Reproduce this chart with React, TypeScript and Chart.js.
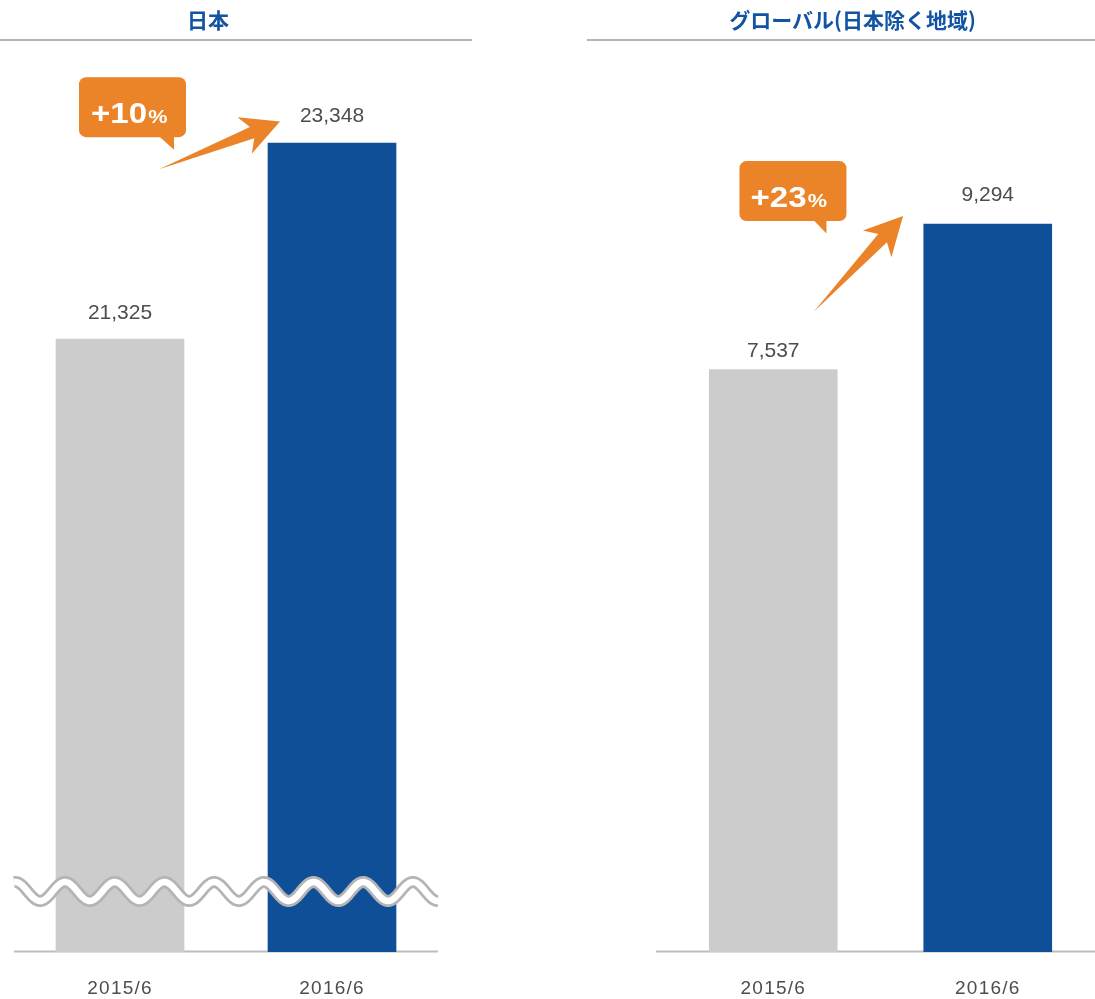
import React, { useEffect, useRef } from 'react';
import { Chart, registerables } from 'chart.js';

Chart.register(...registerables);

// ---- data ----
const categories = ['2015/6', '2016/6'];
const japanValues = [21325, 23348];
const globalValues = [7537, 9294];
const japanChange = ['+10', '%'];
const globalChange = ['+23', '%'];
const panelTitles = ['日本', 'グローバル(日本除く地域)'];
const japanAxisRange = [15000, 24000];
const globalAxisRange = [500, 11035];

// ---- styles ----
const barColors = ['#cbcccb', '#0f4f98'];
const ORANGE = '#eb8329';
const TITLE_BLUE = '#1254a3';
const LATIN = '"Liberation Sans", Arial, Helvetica, sans-serif';

type PanelCfg = {
  title: string;
  values: number[];
  change: string[];
  range: number[];
  canvasLeft: number;
  canvasWidth: number;
  padLeft: number;
  padRight: number;
  baseExtendLeft: number;
  titleCenter: number;
  lineLeft: number;
  lineRight: number;
  labelGaps: number[];
  wave: boolean;
  box: { dx: number; dy: number; w: number; h: number; tail: number[]; textPad: number };
  arrow: { tail: number[]; head: number[] };
};

const panels: PanelCfg[] = [
  {
    title: panelTitles[0],
    values: japanValues,
    change: japanChange,
    range: japanAxisRange,
    canvasLeft: 0,
    canvasWidth: 472,
    padLeft: 14,
    padRight: 34,
    baseExtendLeft: 0,
    titleCenter: 208,
    lineLeft: 0,
    lineRight: 472,
    labelGaps: [26, 27],
    wave: true,
    box: { dx: -189, dy: -66, w: 107, h: 60, tail: [80, 95], textPad: 12 },
    arrow: { tail: [-109, 26], head: [12, -21.6] },
  },
  {
    title: panelTitles[1],
    values: globalValues,
    change: globalChange,
    range: globalAxisRange,
    canvasLeft: 588,
    canvasWidth: 507,
    padLeft: 78,
    padRight: 0,
    baseExtendLeft: 10,
    titleCenter: 852.5,
    lineLeft: 587,
    lineRight: 1095,
    labelGaps: [18.5, 29],
    wave: false,
    box: { dx: -184.3, dy: -63, w: 107, h: 60, tail: [74, 87], textPad: 11 },
    arrow: { tail: [-110, 87.7], head: [-20.7, -8] },
  },
];

function drawArrow(ctx: CanvasRenderingContext2D, tx: number, ty: number, hx: number, hy: number) {
  const dx = hx - tx;
  const dy = hy - ty;
  const L = Math.hypot(dx, dy);
  const ux = dx / L;
  const uy = dy / L;
  const nx = -uy;
  const ny = ux;
  const P = (a: number, p: number): [number, number] => [tx + ux * a + nx * p, ty + uy * a + ny * p];
  const pts = [P(0, 0), P(L - 30, -6), P(L - 38, -19.5), P(L, 0), P(L - 38, 19.5), P(L - 30, 6)];
  ctx.save();
  ctx.fillStyle = ORANGE;
  ctx.beginPath();
  ctx.moveTo(pts[0][0], pts[0][1]);
  for (let i = 1; i < pts.length; i++) ctx.lineTo(pts[i][0], pts[i][1]);
  ctx.closePath();
  ctx.fill();
  ctx.restore();
}

function drawCallout(ctx: CanvasRenderingContext2D, x: number, y: number, cfg: PanelCfg['box'], change: string[]) {
  const { w, h, tail, textPad } = cfg;
  ctx.save();
  ctx.fillStyle = ORANGE;
  ctx.beginPath();
  (ctx as any).roundRect(x, y, w, h, 7);
  ctx.fill();
  ctx.beginPath();
  ctx.moveTo(x + tail[0], y + h - 1);
  ctx.lineTo(x + tail[1], y + h - 1);
  ctx.lineTo(x + tail[1], y + h + 12.5);
  ctx.closePath();
  ctx.fill();
  ctx.fillStyle = '#ffffff';
  ctx.textAlign = 'left';
  ctx.textBaseline = 'alphabetic';
  ctx.translate(x + textPad, y + h - 14.5);
  ctx.scale(1.14, 1);
  ctx.font = `bold 29px ${LATIN}`;
  ctx.fillText(change[0], 0, 0);
  const tw = ctx.measureText(change[0]).width;
  ctx.font = `bold 19px ${LATIN}`;
  ctx.fillText(change[1], tw + 1, 0);
  ctx.restore();
}

function makePlugin(cfg: PanelCfg) {
  return {
    id: 'panelDecor',
    beforeDraw(chart: any) {
      (chart.ctx as any).letterSpacing = '1.2px';
    },
    beforeDatasetsDraw(chart: any) {
      const ctx = chart.ctx as CanvasRenderingContext2D;
      (ctx as any).letterSpacing = '0px';
      const a = chart.chartArea;
      ctx.save();
      ctx.strokeStyle = '#bdbdbd';
      ctx.lineWidth = 2;
      ctx.beginPath();
      ctx.moveTo(a.left - cfg.baseExtendLeft, a.bottom - 0.5);
      ctx.lineTo(a.right, a.bottom - 0.5);
      ctx.stroke();
      ctx.restore();
    },
    afterDatasetsDraw(chart: any) {
      const ctx = chart.ctx as CanvasRenderingContext2D;
      (ctx as any).letterSpacing = '0px';
      const a = chart.chartArea;
      const bars = chart.getDatasetMeta(0).data;

      if (cfg.wave) {
        const cy = a.bottom - 60.5;
        const amp = 9.5;
        const period = 49.7;
        const x0 = a.left + 51;
        ctx.save();
        ctx.beginPath();
        for (let x = a.left; x <= a.right; x += 1) {
          const y = cy - amp * Math.cos((2 * Math.PI * (x - x0)) / period);
          if (x === a.left) ctx.moveTo(x, y);
          else ctx.lineTo(x, y);
        }
        ctx.lineCap = 'butt';
        ctx.lineJoin = 'round';
        ctx.strokeStyle = '#b4b4b4';
        ctx.lineWidth = 12;
        ctx.stroke();
        ctx.strokeStyle = '#ffffff';
        ctx.lineWidth = 6.5;
        ctx.stroke();
        ctx.restore();
      }

      // value labels
      ctx.save();
      ctx.font = `21px ${LATIN}`;
      ctx.fillStyle = '#4d4d4d';
      ctx.textAlign = 'center';
      ctx.textBaseline = 'middle';
      bars.forEach((el: any, i: number) => {
        ctx.fillText(cfg.values[i].toLocaleString('en-US'), el.x, el.y - cfg.labelGaps[i]);
      });
      ctx.restore();

      // callout + arrow, anchored to the second bar's top-left corner
      const last = bars[bars.length - 1];
      const bx = last.x - last.width / 2;
      const by = last.y;
      drawCallout(ctx, bx + cfg.box.dx, by + cfg.box.dy, cfg.box, cfg.change);
      drawArrow(
        ctx,
        bx + cfg.arrow.tail[0],
        by + cfg.arrow.tail[1],
        bx + cfg.arrow.head[0],
        by + cfg.arrow.head[1]
      );
    },
  };
}

function Panel({ cfg }: { cfg: PanelCfg }) {
  const ref = useRef<HTMLCanvasElement | null>(null);
  useEffect(() => {
    if (!ref.current) return;
    const chart = new Chart(ref.current, {
      type: 'bar',
      data: {
        labels: categories,
        datasets: [
          {
            data: cfg.values,
            backgroundColor: barColors,
            barThickness: 128,
          },
        ],
      },
      options: {
        responsive: false,
        animation: false,
        devicePixelRatio: 1,
        layout: { padding: { top: 80, left: cfg.padLeft, right: cfg.padRight, bottom: 0 } },
        plugins: {
          legend: { display: false },
          tooltip: { enabled: false },
          title: { display: false },
        },
        scales: {
          x: {
            grid: { display: false, drawTicks: false },
            border: { display: false },
            ticks: {
              color: '#4d4d4d',
              font: { family: LATIN, size: 19 },
              padding: 25,
              maxRotation: 0,
              autoSkip: false,
            },
            afterFit: (scale: any) => {
              scale.height = 47;
            },
          },
          y: {
            display: false,
            min: cfg.range[0],
            max: cfg.range[1],
          },
        },
      },
      plugins: [makePlugin(cfg)],
    } as any);
    return () => chart.destroy();
  }, []);
  return (
    <canvas
      ref={ref}
      width={cfg.canvasWidth}
      height={999}
      style={{ position: 'absolute', left: cfg.canvasLeft, top: 0, width: cfg.canvasWidth, height: 999 }}
    />
  );
}

export default function App() {
  return (
    <div
      style={{
        position: 'absolute',
        left: 0,
        top: 0,
        width: 1095,
        height: 999,
        background: '#ffffff',
        overflow: 'hidden',
      }}
    >
      {panels.map((p, i) => (
        <Panel key={i} cfg={p} />
      ))}
      {panels.map((p, i) => (
        <React.Fragment key={'t' + i}>
          <div
            style={{
              position: 'absolute',
              left: p.titleCenter - 250,
              width: 500,
              top: 0,
              height: 38,
              lineHeight: '38px',
              textAlign: 'center',
              fontFamily: '"Noto Sans CJK JP", "Noto Sans", sans-serif',
              fontWeight: 700,
              fontSize: 21,
              color: TITLE_BLUE,
              whiteSpace: 'nowrap',
            }}
          >
            {p.title}
          </div>
          <div
            style={{
              position: 'absolute',
              left: p.lineLeft,
              width: p.lineRight - p.lineLeft,
              top: 39,
              height: 2,
              background: '#b4b4b4',
            }}
          />
        </React.Fragment>
      ))}
    </div>
  );
}
